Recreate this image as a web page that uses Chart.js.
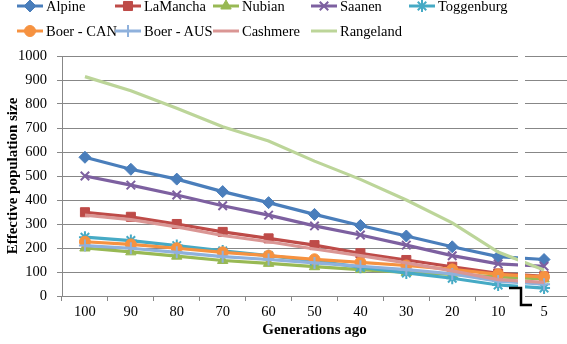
<!DOCTYPE html>
<html><head><meta charset="utf-8">
<script src="https://cdn.jsdelivr.net/npm/chart.js@4/dist/chart.umd.min.js"></script>
<style>
html,body{margin:0;padding:0;background:#fff;}
#wrap{position:relative;width:567px;height:344px;overflow:hidden;background:#fff;}
#c{position:absolute;left:0;top:0;}
.lg{position:absolute;height:16px;display:flex;align-items:center;font-family:"Liberation Serif",serif;font-size:14.5px;color:#000;white-space:nowrap;line-height:16px;}
.lg canvas{margin-right:3px;display:block;}
</style></head><body>
<div id="wrap"><canvas id="c" width="575" height="344"></canvas><div id="legend"></div></div>
<script>
const categories = ['100','90','80','70','60','50','40','30','20','10','5'];
const seriesNames = ['Alpine','LaMancha','Nubian','Saanen','Toggenburg','Boer - CAN','Boer - AUS','Cashmere','Rangeland'];
const alpine     = [578, 528, 487, 435, 389, 340, 294, 250, 205, 164, 152];
const laMancha   = [349, 330, 300, 267, 240, 212, 178, 150, 122, 94, 82];
const nubian     = [200, 184, 166, 148, 136, 122, 110, 98, 90, 80, 71];
const saanen     = [500, 462, 421, 376, 337, 292, 254, 212, 168, 134, 124];
const toggenburg = [245, 231, 210, 188, 168, 146, 120, 96, 74, 46, 33];
const boerCAN    = [226, 215, 199, 182, 168, 153, 140, 127, 111, 90, 80];
const boerAUS    = [210, 199, 182, 164, 152, 138, 124, 110, 92, 62, 49];
const cashmere   = [337, 318, 288, 252, 226, 196, 168, 138, 105, 68, 57];
const rangeland  = [914, 855, 782, 705, 646, 562, 486, 400, 305, 183, 108];
const yTicks = [0,100,200,300,400,500,600,700,800,900,1000];

const seriesValues = [alpine, laMancha, nubian, saanen, toggenburg, boerCAN, boerAUS, cashmere, rangeland];
const colors = ['#4A7EBB','#BE4B48','#98B954','#7D60A0','#46AAC5','#F69240','#8FB1DC','#DA9694','#BCD599'];
const styles = ['rectRot','rect','triangle','crossRot','star','circle','cross',false,false];
const radii  = [6,6.4,6,6,6,5.5,6,0,0];

const GRID = '#878787';
const FONT = '"Liberation Serif", "Times New Roman", serif';

const datasets = seriesNames.map((n,i)=>({
  label:n,
  data:seriesValues[i],
  borderColor:colors[i],
  backgroundColor:colors[i],
  borderWidth:3.2,
  pointStyle:styles[i] || 'circle',
  pointRadius:radii[i],
  pointBackgroundColor:colors[i],
  pointBorderColor:colors[i],
  pointBorderWidth:(styles[i]==='crossRot'||styles[i]==='star'||styles[i]==='cross')?2:1,
  tension:0,
  fill:false,
  order:seriesNames.length - i
}));

const breakPlugin = {
  id:'axisBreak',
  afterDraw(chart){
    const {ctx, chartArea, scales:{x}} = chart;
    const n = categories.length;
    const xc = Math.round((x.getPixelForValue(n-2) + x.getPixelForValue(n-1))/2);
    ctx.save();
    ctx.fillStyle = '#fff';
    ctx.fillRect(xc-3, chartArea.top-2, 7, chartArea.bottom - chartArea.top + 3);
    ctx.fillRect(xc-12, chartArea.bottom-1, 16, 3);
    ctx.strokeStyle = '#000';
    ctx.lineWidth = 2.5;
    ctx.beginPath();
    ctx.moveTo(xc-12, chartArea.bottom-8);
    ctx.lineTo(xc, chartArea.bottom-8);
    ctx.lineTo(xc, chartArea.bottom+9);
    ctx.lineTo(xc+11, chartArea.bottom+9);
    ctx.stroke();
    ctx.restore();
  }
};

new Chart(document.getElementById('c'), {
  type:'line',
  data:{labels:categories, datasets},
  plugins:[breakPlugin],
  options:{
    responsive:false,
    animation:false,
    devicePixelRatio:1,
    layout:{padding:{top:56,right:0,bottom:0,left:0}},
    plugins:{legend:{display:false},tooltip:{enabled:false}},
    scales:{
      x:{
        type:'category',
        offset:true,
        grid:{offset:true,drawOnChartArea:false,drawTicks:true,tickLength:5,color:GRID},
        border:{color:GRID,width:1},
        ticks:{color:'#000',font:{family:FONT,size:14.5},padding:2,maxRotation:0,autoSkip:false},
        title:{display:true,text:'Generations ago',color:'#000',font:{family:FONT,size:15,weight:'bold'},padding:{top:0,bottom:5}},
        afterFit(s){ s.height = 48; }
      },
      y:{
        min:0,max:1000,
        afterBuildTicks(s){ s.ticks = yTicks.map(v=>({value:v})); },
        grid:{color:GRID,tickLength:5,drawTicks:true},
        border:{color:GRID,width:1},
        ticks:{color:'#000',font:{family:FONT,size:14.5},padding:10,callback:(v)=>String(v)},
        title:{display:true,text:'Effective population size',color:'#000',font:{family:FONT,size:15,weight:'bold'},padding:{top:4,bottom:0}},
        afterFit(s){ s.width = 62; }
      }
    }
  }
});

// Legend (HTML text, samples drawn with Chart.js point helper)
const legend = document.getElementById('legend');
const drawPoint = (Chart.helpers && Chart.helpers.drawPoint) ? Chart.helpers.drawPoint : null;
seriesNames.forEach((n,i)=>{
  const row = i < 5 ? 0 : 1;
  const col = i < 5 ? i : i-5;
  const d = document.createElement('div');
  d.className = 'lg';
  d.style.left = (17 + col*98) + 'px';
  d.style.top = (row===0 ? -2 : 23) + 'px';
  const cv = document.createElement('canvas');
  cv.width = 26; cv.height = 16;
  const g = cv.getContext('2d');
  g.strokeStyle = colors[i]; g.fillStyle = colors[i]; g.lineWidth = 3;
  g.beginPath(); g.moveTo(0,8); g.lineTo(26,8); g.stroke();
  if (styles[i] && drawPoint) {
    g.lineWidth = datasets[i].pointBorderWidth;
    drawPoint(g, {pointStyle:styles[i], radius:radii[i], rotation:0, borderWidth:datasets[i].pointBorderWidth}, 13, 8);
  }
  d.appendChild(cv);
  const t = document.createElement('span');
  t.textContent = n;
  d.appendChild(t);
  legend.appendChild(d);
});
</script>
</body></html>
